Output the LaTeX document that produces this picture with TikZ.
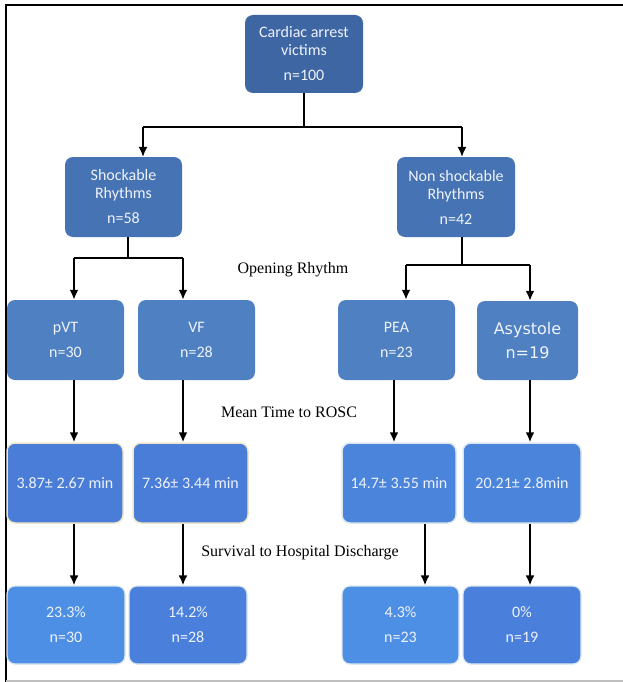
\documentclass[tikz,border=0pt]{standalone}
\usepackage{fontspec}
\setmainfont{Carlito}
\newfontfamily\labelfont{Liberation Serif}
\newfontfamily\wideFont{DejaVu Sans}
\usetikzlibrary{arrows.meta,calc}

\definecolor{navyBox}{HTML}{3D66A3}
\definecolor{midBox}{HTML}{4673B3}
\definecolor{rhythmBox}{HTML}{4F80C2}
\definecolor{timeBox}{HTML}{4A7DD8}
\definecolor{timeBoxB}{HTML}{4A84DB}
\definecolor{survBox}{HTML}{4C8FE4}
\definecolor{survBoxB}{HTML}{4A80DC}
\definecolor{boxText}{HTML}{EEF2FA}
\definecolor{creamEdge}{HTML}{EDE6C8}
\definecolor{paleEdge}{HTML}{DCE6EE}

\tikzset{
  box/.style={rounded corners=8pt, text=boxText, align=center,
    font=\fontsize{16}{18}\selectfont, inner sep=0pt},
  link/.style={line width=1.5pt},
  arr/.style={line width=2pt, -{Latex[length=10pt,width=9pt]}},
  thinarr/.style={line width=1.5pt, -{Latex[length=10pt,width=9pt]}},
  caption/.style={font=\labelfont\fontsize{16}{18}\selectfont}
}

\begin{document}
\begin{tikzpicture}[x=1pt,y=-1pt]
  \useasboundingbox (0,0) rectangle (623,682);
  % frame
  \draw[line width=2pt] (623,5) -- (6,5) -- (6,682);
  \draw[line width=1.2pt, gray!50] (6,681) -- (623,681);

  % boxes
  \node[box, fill=navyBox, minimum width=118pt, minimum height=78pt] (victims) at (304,54)
    {Cardiac arrest\\victims\\[7pt]n=100};
  \node[box, fill=midBox, minimum width=117pt, minimum height=80pt] (shock) at (123.5,197)
    {Shockable\\Rhythms\\[7pt]n=58};
  \node[box, fill=midBox, minimum width=118pt, minimum height=80pt] (nonshock) at (456,197)
    {Non shockable\\Rhythms\\[7pt]n=42};

  \node[box, fill=rhythmBox, minimum width=117pt, minimum height=80pt] (pvt) at (65.5,340)
    {pVT\\[7pt]n=30};
  \node[box, fill=rhythmBox, minimum width=117pt, minimum height=80pt] (vf) at (196.5,340)
    {VF\\[7pt]n=28};
  \node[box, fill=rhythmBox, minimum width=117pt, minimum height=80pt] (pea) at (396.5,340)
    {PEA\\[7pt]n=23};
  \node[box, fill=rhythmBox, minimum width=101pt, minimum height=79pt,
    font=\wideFont\fontsize{16}{18}\selectfont] (asys) at (527.5,340.5)
    {Asystole\\[6pt]n=19};

  \node[box, fill=timeBox, draw=creamEdge, line width=1.5pt, minimum width=116pt, minimum height=80pt] (tpvt) at (65,483)
    {3.87± 2.67 min};
  \node[box, fill=timeBox, draw=creamEdge, line width=1.5pt, minimum width=115pt, minimum height=80pt] (tvf) at (190.5,483)
    {7.36± 3.44 min};
  \node[box, fill=timeBoxB, draw=paleEdge, line width=1.5pt, minimum width=114pt, minimum height=80pt] (tpea) at (399,483)
    {14.7± 3.55 min};
  \node[box, fill=timeBoxB, draw=paleEdge, line width=1.5pt, minimum width=118pt, minimum height=80pt] (tasys) at (522,483)
    {20.21± 2.8min};

  \node[box, fill=survBox, draw=paleEdge, line width=1.2pt, minimum width=118pt, minimum height=78pt] (spvt) at (66,625)
    {23.3\%\\[7pt]n=30};
  \node[box, fill=survBoxB, draw=paleEdge, line width=1.2pt, minimum width=118pt, minimum height=78pt] (svf) at (188,625)
    {14.2\%\\[7pt]n=28};
  \node[box, fill=survBox, draw=paleEdge, line width=1.2pt, minimum width=117pt, minimum height=78pt] (spea) at (400.5,625)
    {4.3\%\\[7pt]n=23};
  \node[box, fill=survBoxB, draw=paleEdge, line width=1.2pt, minimum width=118pt, minimum height=78pt] (sasys) at (522,625)
    {0\%\\[7pt]n=19};

  % captions
  \node[caption] (opening) at (293,270) {Opening Rhythm};
  \node[caption] (rosc) at (289,412) {Mean Time to ROSC};
  \node[caption] (survival) at (300,553) {Survival to Hospital Discharge};

  % connector columns
  \coordinate (splitTop) at (304,127);
  \coordinate (colShock) at (143,0);
  \coordinate (colNon) at (462,0);
  \coordinate (splitShock) at (128,258);
  \coordinate (splitNon) at (462,265);
  \coordinate (colA) at (74,0);
  \coordinate (colB) at (183,0);
  \coordinate (colC) at (406,0);
  \coordinate (colD) at (530,0);
  \coordinate (colE) at (394,0);
  \coordinate (colF) at (425,0);

  % first split
  \draw[link] (victims.south) -- (splitTop);
  \draw[link] (splitTop -| colShock) -- (splitTop -| colNon);
  \draw[thinarr] (splitTop -| colShock) -- (shock.north -| colShock);
  \draw[thinarr] (splitTop -| colNon) -- (nonshock.north -| colNon);

  % shockable split
  \draw[link] (shock.south -| splitShock) -- (splitShock);
  \draw[line width=2pt] (splitShock -| colA) -- (splitShock -| colB);
  \draw[arr] (splitShock -| colA) -- (pvt.north -| colA);
  \draw[arr] (splitShock -| colB) -- (vf.north -| colB);

  % non shockable split
  \draw[link] (nonshock.south -| splitNon) -- (splitNon);
  \draw[line width=2pt] (splitNon -| colC) -- (splitNon -| colD);
  \draw[arr] (splitNon -| colC) -- (pea.north -| colC);
  \draw[arr] (splitNon -| colD) -- (asys.north -| colD);

  % to time to ROSC
  \draw[arr] (pvt.south -| colA) -- (tpvt.north -| colA);
  \draw[arr] (vf.south -| colB) -- (tvf.north -| colB);
  \draw[arr] (pea.south -| colE) -- (tpea.north -| colE);
  \draw[arr] (asys.south -| colD) -- (tasys.north -| colD);

  % to survival
  \draw[arr] (tpvt.south -| colA) -- (spvt.north -| colA);
  \draw[arr] (tvf.south -| colB) -- (svf.north -| colB);
  \draw[arr] (tpea.south -| colF) -- (spea.north -| colF);
  \draw[arr] (tasys.south -| colD) -- (sasys.north -| colD);
\end{tikzpicture}
\end{document}
